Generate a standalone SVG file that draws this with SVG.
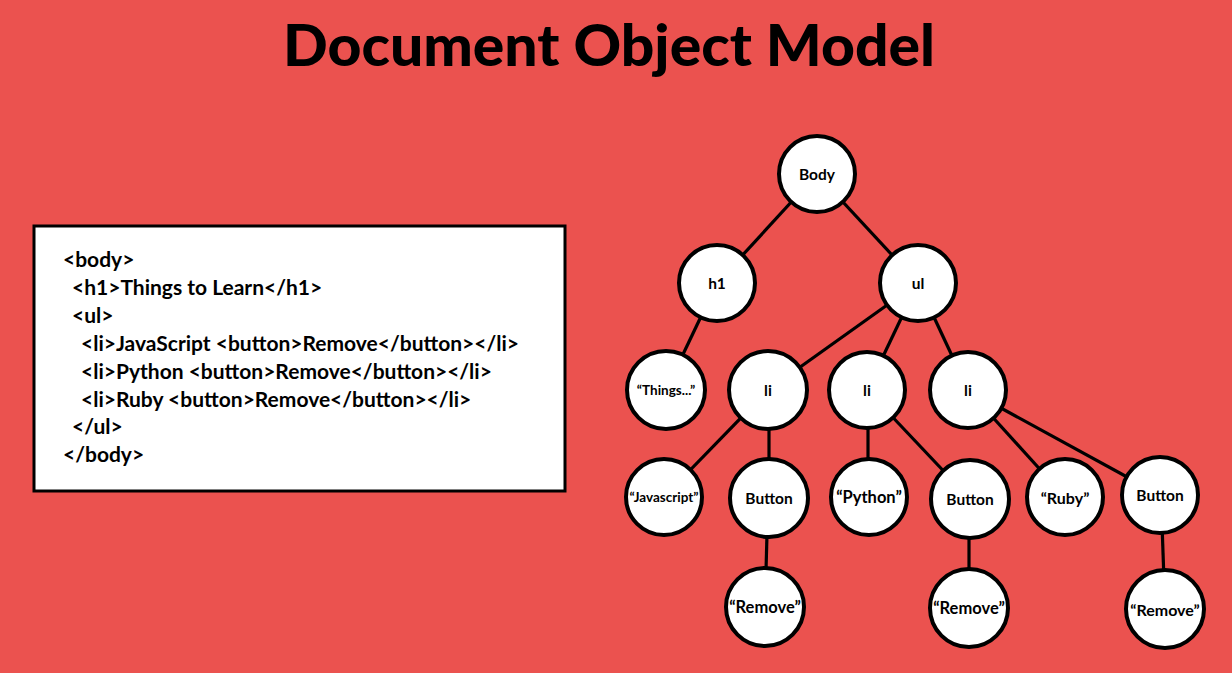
<svg xmlns="http://www.w3.org/2000/svg" width="1232" height="673" viewBox="0 0 1232 673">
<style>
.bg{fill:#EB524F}
.n circle{fill:#fff;stroke:#000;stroke-width:4}
.n text{font-family:Lato,"Liberation Sans",sans-serif;font-weight:700;fill:#000;text-anchor:middle;dominant-baseline:central}
.e line{stroke:#000;stroke-width:3.2}
.code{font-family:Lato,"Liberation Sans",sans-serif;font-weight:700;font-size:21px;fill:#000}
.title{font-family:Lato,"Liberation Sans",sans-serif;font-weight:900;font-size:58px;fill:#000}
</style>
<rect class="bg" x="0" y="0" width="1232" height="673"/>
<text class="title" x="609" y="66" text-anchor="middle" textLength="652" lengthAdjust="spacingAndGlyphs">Document Object Model</text>
<g id="code">
<rect x="34" y="226" width="531" height="265" fill="#fff" stroke="#000" stroke-width="3"/>
<text class="code" x="63" y="267">&lt;body&gt;</text>
<text class="code" x="72" y="295">&lt;h1&gt;Things to Learn&lt;/h1&gt;</text>
<text class="code" x="72" y="323">&lt;ul&gt;</text>
<text class="code" x="81" y="351">&lt;li&gt;JavaScript &lt;button&gt;Remove&lt;/button&gt;&lt;/li&gt;</text>
<text class="code" x="81" y="379">&lt;li&gt;Python &lt;button&gt;Remove&lt;/button&gt;&lt;/li&gt;</text>
<text class="code" x="81" y="407">&lt;li&gt;Ruby &lt;button&gt;Remove&lt;/button&gt;&lt;/li&gt;</text>
<text class="code" x="72" y="434">&lt;/ul&gt;</text>
<text class="code" x="63" y="462">&lt;/body&gt;</text>
</g>
<g id="connectors" class="e">
<line x1="817" y1="174" x2="717" y2="283"/>
<line x1="817" y1="174" x2="918" y2="283"/>
<line x1="717" y1="283" x2="666" y2="390"/>
<line x1="918" y1="283" x2="768" y2="390"/>
<line x1="918" y1="283" x2="867" y2="390"/>
<line x1="918" y1="283" x2="968" y2="390"/>
<line x1="768" y1="390" x2="664" y2="497"/>
<line x1="769" y1="390" x2="769" y2="498"/>
<line x1="868" y1="390" x2="868" y2="497"/>
<line x1="867" y1="390" x2="970" y2="499"/>
<line x1="968" y1="390" x2="1065" y2="497"/>
<line x1="968" y1="390" x2="1160" y2="495"/>
<line x1="768" y1="498" x2="765" y2="607"/>
<line x1="969" y1="499" x2="969" y2="608"/>
<line x1="1161" y1="495" x2="1165" y2="609"/>
</g>
<g id="n-body" class="n"><circle cx="817" cy="174" r="38"/><text x="817" y="174" font-size="15.5">Body</text></g>
<g id="n-h1" class="n"><circle cx="717" cy="283" r="38"/><text x="717" y="283" font-size="15.5">h1</text></g>
<g id="n-ul" class="n"><circle cx="918" cy="283" r="38"/><text x="918" y="283" font-size="15.5">ul</text></g>
<g id="n-things" class="n"><circle cx="666" cy="390" r="39"/><text x="666" y="390" font-size="13.5">“Things...”</text></g>
<g id="n-li1" class="n"><circle cx="768" cy="390" r="39"/><text x="768" y="390" font-size="15.5">li</text></g>
<g id="n-li2" class="n"><circle cx="867" cy="390" r="38"/><text x="867" y="390" font-size="15.5">li</text></g>
<g id="n-li3" class="n"><circle cx="968" cy="390" r="38"/><text x="968" y="390" font-size="15.5">li</text></g>
<g id="n-javascript" class="n"><circle cx="664" cy="497" r="38"/><text x="664" y="497" font-size="13.5">“Javascript”</text></g>
<g id="n-button1" class="n"><circle cx="769" cy="498" r="39"/><text x="769" y="498" font-size="15.5">Button</text></g>
<g id="n-python" class="n"><circle cx="869" cy="497" r="38"/><text x="869" y="497" font-size="16.5">“Python”</text></g>
<g id="n-button2" class="n"><circle cx="970" cy="499" r="39"/><text x="970" y="499" font-size="15.5">Button</text></g>
<g id="n-ruby" class="n"><circle cx="1065" cy="497" r="38"/><text x="1065" y="497" font-size="16">“Ruby”</text></g>
<g id="n-button3" class="n"><circle cx="1160" cy="495" r="38"/><text x="1160" y="495" font-size="15.5">Button</text></g>
<g id="n-remove1" class="n"><circle cx="765" cy="607" r="39"/><text x="765" y="607" font-size="16.5">“Remove”</text></g>
<g id="n-remove2" class="n"><circle cx="969" cy="608" r="39"/><text x="969" y="608" font-size="16.5">“Remove”</text></g>
<g id="n-remove3" class="n"><circle cx="1165" cy="609" r="39"/><text x="1165" y="609" font-size="16">“Remove”</text></g>
</svg>
